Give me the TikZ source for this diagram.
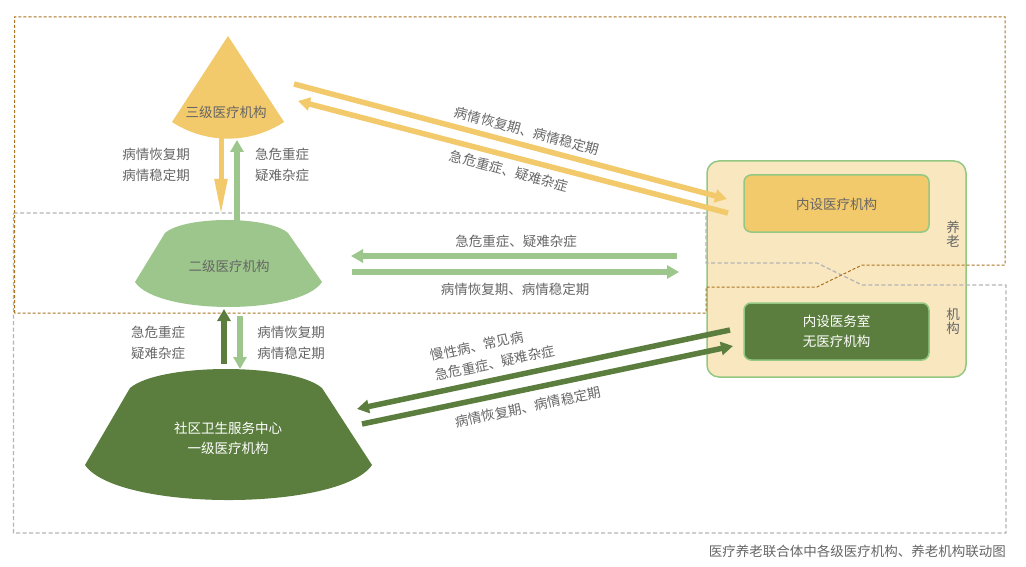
\documentclass[tikz,border=0pt]{standalone}
\usepackage{fontspec}
\setmainfont{Noto Sans CJK SC}
\usetikzlibrary{arrows.meta}
\definecolor{cOrange}{HTML}{F2C96B}
\definecolor{cLight}{HTML}{9CC68B}
\definecolor{cDark}{HTML}{5B7E3E}
\definecolor{cBoxFill}{HTML}{F9E7C0}
\definecolor{cBoxLine}{HTML}{92C882}
\definecolor{cText}{HTML}{666666}
\definecolor{cDashO}{HTML}{A9731F}
\definecolor{cDashG}{HTML}{B5B5B5}
\begin{document}
\begin{tikzpicture}[x=1pt,y=-1pt,
  lbl/.style={text=cText,font=\fontsize{13.5}{20.5}\selectfont,align=center,inner sep=0pt},
  wlbl/.style={lbl,text=white},
  arr/.style={line width=5.5pt,-{Triangle[length=12pt,width=13pt]}},
  dshO/.style={line width=1pt,dash pattern=on 3pt off 2pt,cDashO},
  dshG/.style={line width=1.3pt,dash pattern=on 4pt off 2.5pt,cDashG}]
\useasboundingbox (0,0) rectangle (1026,567);
\fill[white] (0,0) rectangle (1026,567);

% big right box
\filldraw[fill=cBoxFill,draw=cBoxLine,line width=1.5pt,rounded corners=12pt] (707,161) rectangle (966,377);

% dashed regions
\draw[dshG] (13.5,213) -- (706,213) -- (706,263) -- (817,263) -- (862,285) -- (1006,285) -- (1006,533) -- (13.5,533) -- cycle;
\draw[dshO] (14.5,313) -- (14.5,17) -- (1005,17) -- (1005,265) -- (862,265) -- (817,287) -- (706,287) -- (706,313) -- cycle;

% inner boxes
\filldraw[fill=cOrange,draw=cBoxLine,line width=1.5pt,rounded corners=7pt] (744,175) rectangle (929,232);
\node[lbl] (inner1) at (836.5,204) {内设医疗机构};
\filldraw[fill=cDark,draw=cBoxLine,line width=1.5pt,rounded corners=7pt] (744,303) rectangle (929,360);
\node[wlbl] (inner2) at (836.5,331.5) {内设医务室\\无医疗机构};
\node[lbl,font=\fontsize{13.5}{14}\selectfont] (yl) at (953,234) {养\\老};
\node[lbl,font=\fontsize{13.5}{14}\selectfont] (jg) at (953,321) {机\\构};

% tertiary sector
\fill[cOrange] (228,36) -- (172,122) arc[start angle=236.9,end angle=303.1,radius=102.6pt] -- cycle;
\node[lbl] (tert) at (226,112) {三级医疗机构};

% secondary
\fill[cLight] (165,233) .. controls (185,215.7) and (268,215.7) .. (288,233) -- (322,282)
  .. controls (300,315.3) and (157,315.3) .. (135,282) -- cycle;
\node[lbl] (sec) at (229,266) {二级医疗机构};

% primary
\fill[cDark] (130,388) .. controls (160,362.7) and (292,362.7) .. (322,388) -- (372,465)
  .. controls (340,511.7) and (117,511.7) .. (85,465) -- cycle;
\node[wlbl] (prim) at (228,438.5) {社区卫生服务中心\\一级医疗机构};

% coordinates for connectors
\coordinate (t1) at (221,136);
\coordinate (s1) at (221,215);
\coordinate (s2) at (237,222);
\coordinate (t2) at (237,140);
\coordinate (p1) at (224,364);
\coordinate (s3) at (224,309);
\coordinate (s4) at (240,316);
\coordinate (p2) at (240,369);
\coordinate (ta) at (294,84);
\coordinate (ra) at (727,199);
\coordinate (rb) at (728,213);
\coordinate (tb) at (298,101);
\coordinate (rc) at (677,256);
\coordinate (sc) at (351,256);
\coordinate (sd) at (352,272);
\coordinate (rd) at (679,272);
\coordinate (re) at (730,330);
\coordinate (pe) at (357,409);
\coordinate (pf) at (362,424);
\coordinate (rf) at (733,346);

% vertical arrows
\draw[cOrange,line width=5pt,-{Triangle[length=36pt,width=12pt]}] (t1) -- (s1);
\draw[cLight,arr] (s2) -- (t2);
\draw[cDark,arr] (p1) -- (s3);
\draw[cLight,arr] (s4) -- (p2);

\node[lbl] (l1) at (156,165) {病情恢复期\\病情稳定期};
\node[lbl] (l2) at (282,165) {急危重症\\疑难杂症};
\node[lbl] (l3) at (158,343) {急危重症\\疑难杂症};
\node[lbl] (l4) at (291,343) {病情恢复期\\病情稳定期};

% orange diagonals
\draw[cOrange,arr] (ta) -- (ra);
\draw[cOrange,arr] (rb) -- (tb);
\node[lbl,rotate=-15] (l5) at (527,131) {病情恢复期、病情稳定期};
\node[lbl,rotate=-15] (l6) at (509,171) {急危重症、疑难杂症};

% green horizontals
\draw[cLight,arr] (rc) -- (sc);
\draw[cLight,arr] (sd) -- (rd);
\node[lbl] (l7) at (516,241) {急危重症、疑难杂症};
\node[lbl] (l8) at (515,289) {病情恢复期、病情稳定期};

% dark diagonals
\draw[cDark,arr] (re) -- (pe);
\draw[cDark,arr] (pf) -- (rf);
\node[lbl,rotate=12] (l9) at (477,346) {慢性病、常见病};
\node[lbl,rotate=12] (l10) at (495,363) {急危重症、疑难杂症};
\node[lbl,rotate=12] (l11) at (528,407) {病情恢复期、病情稳定期};

% caption
\node[lbl,anchor=east] (cap) at (1006,551) {医疗养老联合体中各级医疗机构、养老机构联动图};
\end{tikzpicture}
\end{document}
